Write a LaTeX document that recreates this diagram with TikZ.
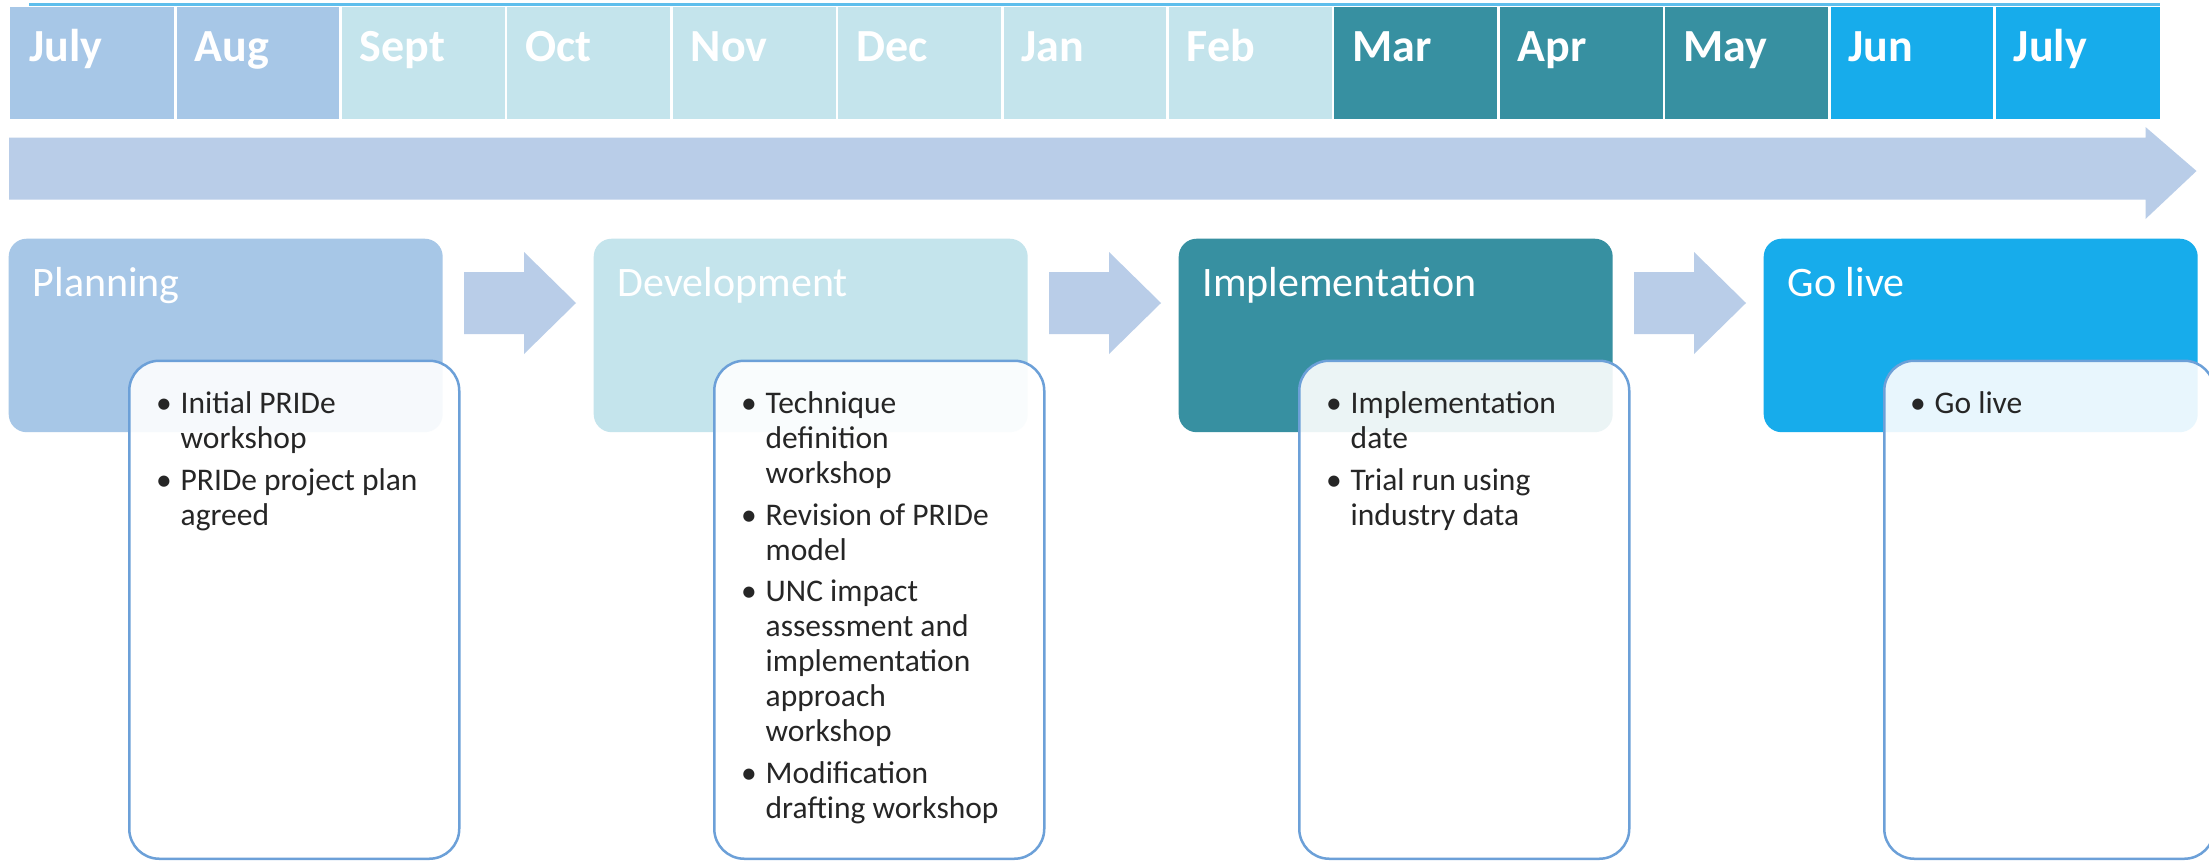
\documentclass[tikz,border=0pt]{standalone}
\usepackage{fontspec}
\setmainfont{Carlito}
\definecolor{cPlan}{HTML}{A7C7E7}
\definecolor{cDev}{HTML}{C4E4EC}
\definecolor{cImp}{HTML}{3790A1}
\definecolor{cGo}{HTML}{17ACEB}
\definecolor{cArrow}{HTML}{B9CDE8}
\definecolor{cLine}{HTML}{6CA0D8}
\definecolor{cText}{HTML}{262626}
\definecolor{cTop}{HTML}{5EBEEC}
\newcommand\lines[1]{\vtop{#1}}
\begin{document}
\begin{tikzpicture}[x=1pt,y=-1pt,
  monthtext/.style={anchor=base west,inner sep=0pt,text=white,font=\bfseries\fontsize{46}{55}\selectfont},
  phasebox/.style={anchor=north west,rounded corners=18pt,minimum width=434pt,minimum height=193.5pt,inner sep=0pt,draw=none},
  phasetitle/.style={anchor=base west,inner sep=0pt,text=white,font=\fontsize{42}{50}\selectfont},
  contentbox/.style={anchor=north west,rounded corners=30pt,minimum width=330pt,minimum height=498pt,inner sep=0pt,draw=cLine,line width=2.5pt,fill=white,fill opacity=0.9,draw opacity=1},
  itemtext/.style={anchor=base west,inner sep=0pt,text=cText,align=left,font=\fontsize{31.5}{35}\selectfont},
  bulletmark/.style={anchor=base,inner sep=0pt,text=cText,font=\fontsize{31.5}{35}\selectfont},
  blockarrow/.style={fill=cArrow,draw=none}]
\useasboundingbox (0,0) rectangle (2209,860);
\fill[white] (0,0) rectangle (2209,860);
% top rule
\draw[cTop,line width=3pt] (29,4) -- (2160,4);
% months
\foreach \i/\m/\c in {0/July/cPlan,1/Aug/cPlan,2/Sept/cDev,3/Oct/cDev,4/Nov/cDev,5/Dec/cDev,6/Jan/cDev,7/Feb/cDev,8/Mar/cImp,9/Apr/cImp,10/May/cImp,11/Jun/cGo,12/July/cGo}{
  \fill[\c] ({10+\i*165.385},7) rectangle ({10+(\i+1)*165.385},119);
  \node[monthtext] (m\i) at ({10+\i*165.385+19},61) {\m};
}
\foreach \i in {1,...,12}{
  \draw[white,line width=2.6pt] ({10+\i*165.385},6) -- ({10+\i*165.385},120);
}
% big timeline arrow
\fill[blockarrow] (9,137.5) -- (2145.5,137.5) -- (2145.5,127) -- (2196.5,171) -- (2145.5,219) -- (2145.5,199.5) -- (9,199.5) -- cycle;
% phase boxes
\node[phasebox,fill=cPlan] (plan) at (8.5,238.5) {};
\node[phasebox,fill=cDev] (dev) at (593.5,238.5) {};
\node[phasebox,fill=cImp] (imp) at (1178.5,238.5) {};
\node[phasebox,fill=cGo] (go) at (1763.5,238.5) {};
\node[phasetitle] (tplan) at (32.5,296.5) {Planning};
\node[phasetitle] (tdev) at (617.5,296.5) {Development};
\node[phasetitle] (timp) at (1202.5,296.5) {Implementation};
\node[phasetitle] (tgo) at (1787.5,296.5) {Go live};
% block arrows between phases
\foreach \k in {0,1,2}{
  \fill[blockarrow] ({464+\k*585},272) -- ({524+\k*585},272) -- ({524+\k*585},252) -- ({576+\k*585},303) -- ({524+\k*585},354) -- ({524+\k*585},334) -- ({464+\k*585},334) -- cycle;
}
% content boxes
\node[contentbox] (cplan) at (128,359.5) {};
\node[contentbox] (cdev) at (713,359.5) {};
\node[contentbox] (cimp) at (1298,359.5) {};
\node[contentbox] (cgo) at (1883,359.5) {};
% Planning items
\node[bulletmark] (bp1) at (164,413.5) {•};
\node[itemtext] (ip1) at (180.5,413.5) {\lines{\hbox{Initial PRIDe}\hbox{workshop}}};
\node[bulletmark] (bp2) at (164,490) {•};
\node[itemtext] (ip2) at (180.5,490) {\lines{\hbox{PRIDe project plan}\hbox{agreed}}};
% Development items
\node[bulletmark] (bd1) at (749,413.5) {•};
\node[itemtext] (id1) at (765.5,413.5) {\lines{\hbox{Technique}\hbox{definition}\hbox{workshop}}};
\node[bulletmark] (bd2) at (749,525) {•};
\node[itemtext] (id2) at (765.5,525) {\lines{\hbox{Revision of PRIDe}\hbox{model}}};
\node[bulletmark] (bd3) at (749,601.5) {•};
\node[itemtext] (id3) at (765.5,601.5) {\lines{\hbox{UNC impact}\hbox{assessment and}\hbox{implementation}\hbox{approach}\hbox{workshop}}};
\node[bulletmark] (bd4) at (749,783) {•};
\node[itemtext] (id4) at (765.5,783) {\lines{\hbox{Modification}\hbox{drafting workshop}}};
% Implementation items
\node[bulletmark] (bi1) at (1334,413.5) {•};
\node[itemtext] (ii1) at (1350.5,413.5) {\lines{\hbox{Implementation}\hbox{date}}};
\node[bulletmark] (bi2) at (1334,490) {•};
\node[itemtext] (ii2) at (1350.5,490) {\lines{\hbox{Trial run using}\hbox{industry data}}};
% Go live items
\node[bulletmark] (bg1) at (1918,413.5) {•};
\node[itemtext] (ig1) at (1934.5,413.5) {\lines{\hbox{Go live}}};
\end{tikzpicture}
\end{document}
